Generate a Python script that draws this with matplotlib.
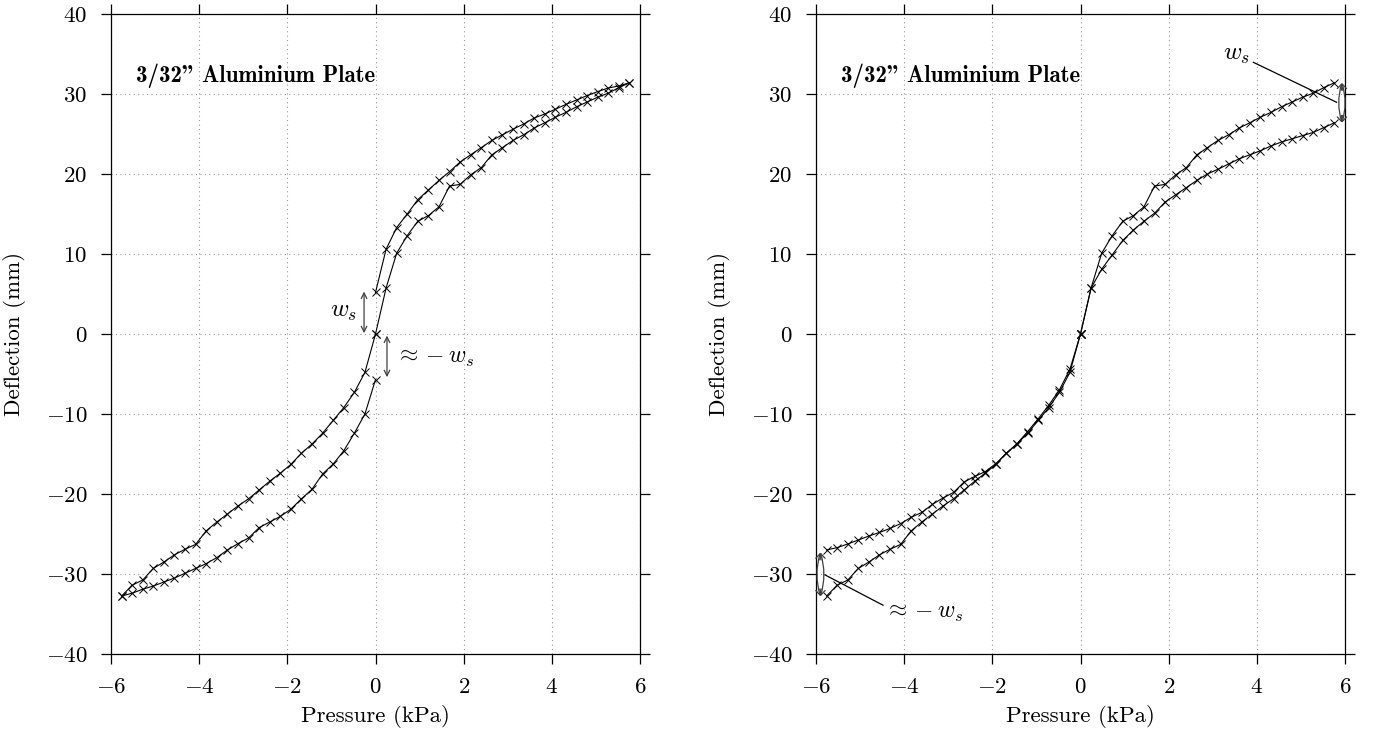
import matplotlib
matplotlib.use('Agg')
import matplotlib.pyplot as plt
from matplotlib.ticker import MultipleLocator

matplotlib.rcParams['font.family'] = 'serif'
matplotlib.rcParams['font.serif'] = ['cmr10']
matplotlib.rcParams['mathtext.fontset'] = 'cm'
matplotlib.rcParams['axes.formatter.use_mathtext'] = True

# pressure steps (kPa)
p_pos = [0.00, 0.24, 0.48, 0.72, 0.96, 1.20, 1.44, 1.68, 1.92, 2.16, 2.40, 2.64, 2.88,
         3.12, 3.36, 3.60, 3.84, 4.08, 4.32, 4.56, 4.80, 5.04, 5.28, 5.52, 5.76]
p_neg = [-p for p in p_pos]

# left panel: raw data
left_load_pos = [0.0, 5.75, 10.1, 12.3, 14.1, 14.8, 15.9, 18.5, 18.7, 19.9, 20.8, 22.4, 23.3,
                 24.2, 24.9, 25.75, 26.4, 27.1, 27.7, 28.4, 29.0, 29.6, 30.1, 30.8, 31.4]
left_unload_pos = [5.2, 10.6, 13.3, 15.0, 16.8, 18.0, 19.2, 20.3, 21.5, 22.4, 23.3, 24.2, 24.9,
                   25.6, 26.25, 27.0, 27.5, 28.1, 28.7, 29.25, 29.8, 30.3, 30.75, 31.0, 31.4]
left_load_neg = [0.0, -4.8, -7.3, -9.2, -10.8, -12.4, -13.75, -14.9, -16.3, -17.4, -18.4, -19.5, -20.6,
                 -21.5, -22.5, -23.5, -24.6, -26.3, -26.9, -27.6, -28.5, -29.3, -30.75, -31.4, -32.75]
left_unload_neg = [-5.7, -10.0, -12.4, -14.6, -16.25, -17.5, -19.4, -20.6, -21.9, -22.8, -23.5, -24.2, -25.5,
                   -26.2, -27.0, -27.95, -28.7, -29.3, -29.9, -30.5, -31.0, -31.5, -31.9, -32.4, -32.75]

# right panel: corrected data
right_load_pos = left_load_pos
right_unload_pos = [0.0, 5.75, 8.1, 9.9, 11.7, 13.0, 14.1, 15.1, 16.5, 17.4, 18.3, 19.2, 20.0,
                    20.6, 21.25, 21.9, 22.4, 22.9, 23.5, 24.0, 24.4, 24.8, 25.2, 25.8, 26.4]
right_load_neg = left_load_neg
right_unload_neg = [0.0, -4.4, -7.0, -8.9, -10.6, -12.2, -13.7, -14.9, -16.2, -17.2, -17.8, -18.5, -19.8,
                    -20.5, -21.3, -22.3, -22.9, -23.7, -24.3, -24.8, -25.25, -25.75, -26.25, -26.7, -27.0]

title = '3/32" Aluminium Plate'
FS = 16.5

fig = plt.figure(figsize=(13.74, 7.40), dpi=100)
ax1 = fig.add_axes([0.0808, 0.1162, 0.385, 0.8649])
ax2 = fig.add_axes([0.5939, 0.1162, 0.385, 0.8649])

panels = {
    ax1: [left_load_pos, left_unload_pos, left_load_neg, left_unload_neg],
    ax2: [right_load_pos, right_unload_pos, right_load_neg, right_unload_neg],
}

for ax, series in panels.items():
    for k, w in enumerate(series):
        p = p_pos if k < 2 else p_neg
        ax.plot(p, w, '-', color='black', lw=0.8, marker='x', ms=5.5, mew=0.7)
    ax.set_xlim(-6, 6)
    ax.set_ylim(-40, 40)
    ax.xaxis.set_major_locator(MultipleLocator(2))
    ax.yaxis.set_major_locator(MultipleLocator(10))
    ax.grid(True, linestyle=(0, (1, 3)), color='0.6', lw=0.8)
    ax.tick_params(direction='out', length=7, width=0.9, labelsize=FS,
                   top=True, right=True, pad=10)
    for s in ax.spines.values():
        s.set_linewidth(0.9)
    ax.set_xlabel('Pressure (kPa)', fontsize=FS, labelpad=6)
    ax.set_ylabel('Deflection (mm)', fontsize=FS, labelpad=14)
    ax.text(-5.43, 32.3, title, fontsize=FS, family='cmb10', ha='left', va='center')

arr = dict(arrowstyle='<->', color='0.25', lw=0.9, shrinkA=0, shrinkB=0)

# left panel annotations
ax1.annotate('', xy=(-0.26, 5.3), xytext=(-0.26, 0.1), arrowprops=arr)
ax1.text(-0.42, 2.7, r'$w_s$', fontsize=18, ha='right', va='center')
ax1.annotate('', xy=(0.26, -0.2), xytext=(0.26, -5.4), arrowprops=arr)
ax1.text(0.45, -3.0, r'$\approx -w_s$', fontsize=17, ha='left', va='center')

# right panel annotations
for rad in (0.15, -0.15):
    a = dict(arr, connectionstyle='arc3,rad=%g' % rad)
    ax2.annotate('', xy=(5.93, 31.4), xytext=(5.93, 26.4), arrowprops=a)
    ax2.annotate('', xy=(-5.9, -27.3), xytext=(-5.9, -32.8), arrowprops=a)
ax2.plot([3.92, 5.81], [33.96, 28.96], color='black', lw=0.9)
ax2.text(3.55, 34.9, r'$w_s$', fontsize=18, ha='center', va='center')
ax2.plot([-5.80, -4.48], [-30.1, -33.9], color='black', lw=0.9)
ax2.text(-4.45, -34.9, r'$\approx -w_s$', fontsize=17, ha='left', va='center')

plt.savefig('out.png', dpi=100)
plt.close()
